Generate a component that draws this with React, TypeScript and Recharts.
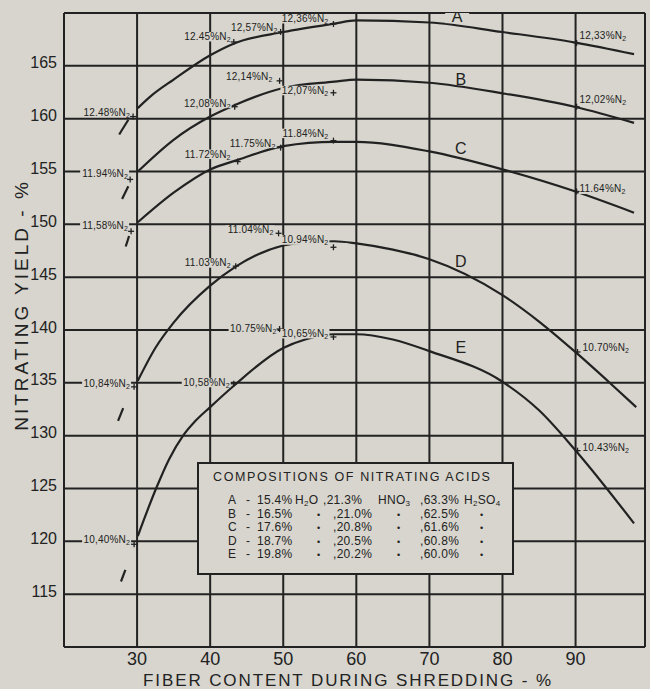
import React from 'react';
import { ComposedChart, Line, Scatter, XAxis, YAxis, CartesianGrid } from 'recharts';

const PAPER = '#d7d5cd';
const INK = '#222222';
const FONT = '"Liberation Sans", Arial, sans-serif';

const X_TICKS = [30, 40, 50, 60, 70, 80, 90];
const Y_TICKS = [115, 120, 125, 130, 135, 140, 145, 150, 155, 160, 165];

// main curves
const CURVE_A = [
  { x: 30.1, y: 161.0 }, { x: 32, y: 162.2 }, { x: 35, y: 163.7 }, { x: 40, y: 166.0 },
  { x: 43.2, y: 167.1 }, { x: 50, y: 168.2 }, { x: 57, y: 169.0 }, { x: 60, y: 169.3 },
  { x: 70, y: 169.1 }, { x: 80, y: 168.2 }, { x: 90, y: 167.2 }, { x: 98, y: 166.1 },
];
const CURVE_B = [
  { x: 30.1, y: 155.0 }, { x: 35, y: 158.0 }, { x: 40, y: 160.2 }, { x: 43.4, y: 161.3 },
  { x: 50, y: 162.9 }, { x: 57, y: 163.5 }, { x: 60, y: 163.7 }, { x: 70, y: 163.4 },
  { x: 80, y: 162.4 }, { x: 90, y: 161.1 }, { x: 98, y: 159.6 },
];
const CURVE_C = [
  { x: 30.1, y: 150.2 }, { x: 35, y: 153.0 }, { x: 40, y: 155.2 }, { x: 43.8, y: 156.1 },
  { x: 50, y: 157.4 }, { x: 57, y: 157.8 }, { x: 60, y: 157.8 }, { x: 70, y: 156.9 },
  { x: 80, y: 155.2 }, { x: 90, y: 153.1 }, { x: 98, y: 151.1 },
];
const CURVE_D = [
  { x: 30.1, y: 135.2 }, { x: 32.5, y: 138.3 }, { x: 35, y: 140.7 }, { x: 40, y: 144.2 },
  { x: 43.5, y: 146.0 }, { x: 50, y: 148.0 }, { x: 53, y: 148.3 }, { x: 57, y: 148.4 },
  { x: 60, y: 148.2 }, { x: 65, y: 147.6 }, { x: 70, y: 146.7 }, { x: 80, y: 143.3 },
  { x: 85, y: 140.8 }, { x: 90, y: 137.9 }, { x: 95, y: 134.8 }, { x: 98.3, y: 132.7 },
];
const CURVE_E = [
  { x: 30.1, y: 120.5 }, { x: 32.6, y: 125.0 }, { x: 34.4, y: 127.8 }, { x: 36.3, y: 130.0 },
  { x: 38, y: 131.4 }, { x: 40, y: 132.7 }, { x: 43.2, y: 134.7 }, { x: 50, y: 138.3 },
  { x: 53, y: 139.1 }, { x: 57, y: 139.6 }, { x: 60, y: 139.6 }, { x: 65, y: 139.1 },
  { x: 70, y: 138.0 }, { x: 80, y: 135.1 }, { x: 85, y: 132.4 }, { x: 90, y: 128.6 },
  { x: 98, y: 121.7 },
];

// short lead-in strokes below x=30
const LEAD_A = [{ x: 27.55, y: 158.5 }, { x: 28.8, y: 159.9 }];
const LEAD_B = [{ x: 27.95, y: 152.4 }, { x: 28.8, y: 153.6 }];
const LEAD_C = [{ x: 28.45, y: 147.9 }, { x: 28.9, y: 148.9 }];
const LEAD_D = [{ x: 27.4, y: 131.4 }, { x: 28.1, y: 132.6 }];
const LEAD_E = [{ x: 27.8, y: 116.2 }, { x: 28.4, y: 117.3 }];

// measured points with nitrogen content
const MARKERS = [
  { x: 29.45, y: 160.2, n: '12.48' },
  { x: 43.23, y: 167.26, n: '12.45' },
  { x: 49.64, y: 168.21, n: '12,57' },
  { x: 56.87, y: 168.96, n: '12,36' },
  { x: 90.14, y: 167.17, n: '12,33' },
  { x: 29.05, y: 154.25, n: '11.94' },
  { x: 43.36, y: 161.13, n: '12,08' },
  { x: 49.5, y: 163.58, n: '12,14' },
  { x: 56.87, y: 162.45, n: '12,07' },
  { x: 90.14, y: 161.13, n: '12,02' },
  { x: 29.18, y: 149.34, n: '11,58' },
  { x: 43.77, y: 155.94, n: '11.72' },
  { x: 49.64, y: 157.26, n: '11.75' },
  { x: 56.87, y: 157.92, n: '11.84' },
  { x: 90.14, y: 153.11, n: '11.64' },
  { x: 29.59, y: 134.62, n: '10,84' },
  { x: 43.5, y: 146.04, n: '11.03' },
  { x: 49.36, y: 149.15, n: '11.04' },
  { x: 56.87, y: 147.83, n: '10.94' },
  { x: 90.27, y: 137.92, n: '10.70' },
  { x: 29.59, y: 119.72, n: '10,40' },
  { x: 43.23, y: 134.91, n: '10,58' },
  { x: 49.5, y: 140.09, n: '10.75' },
  { x: 56.87, y: 139.34, n: '10,65' },
  { x: 90.27, y: 128.58, n: '10.43' },
];

const CURVE_NAMES = [
  { x: 73.8, y: 169.7, name: 'A' },
  { x: 74.3, y: 163.7, name: 'B' },
  { x: 74.3, y: 157.2, name: 'C' },
  { x: 74.3, y: 146.5, name: 'D' },
  { x: 74.3, y: 138.3, name: 'E' },
];

const COMP_LETTERS = ['A', 'B', 'C', 'D', 'E'];
const COMP_H2O = ['15.4%', '16.5%', '17.6%', '18.7%', '19.8%'];
const COMP_HNO3 = ['21.3%', '21.0%', '20.8%', '20.5%', '20.2%'];
const COMP_H2SO4 = ['63.3%', '62.5%', '61.6%', '60.8%', '60.0%'];

// label placement next to each marker: [dx, dy, anchor]
const LABEL_PLACE: Record<string, [number, number, 'start' | 'end']> = {
  '12.48': [-3, -1, 'end'], '12.45': [-3, -2, 'end'], '12,57': [-3, -1, 'end'],
  '12,36': [-5, -2, 'end'], '12,33': [3, -4, 'start'],
  '11.94': [-2, -2, 'end'], '12,08': [-4, 0, 'end'], '12,14': [-7, -1, 'end'],
  '12,07': [-5, 1, 'end'], '12,02': [3, -4, 'start'],
  '11,58': [-3, -2, 'end'], '11.72': [-7, -4, 'end'], '11.75': [-5, -1, 'end'],
  '11.84': [-5, -4, 'end'], '11.64': [3, 1, 'start'],
  '10,84': [-4, 0, 'end'], '11.03': [-5, 0, 'end'], '11.04': [-5, 0, 'end'],
  '10.94': [-5, -4, 'end'], '10.70': [5, -1, 'start'],
  '10,40': [-4, -1, 'end'], '10,58': [-4, 2, 'end'], '10.75': [-3, 3, 'end'],
  '10,65': [-5, 0, 'end'], '10.43': [5, 0, 'start'],
};

const MarkerShape = (props: any) => {
  const { cx, cy, payload } = props;
  const [dx, dy, anchor] = LABEL_PLACE[payload.n] || [-4, 0, 'end'];
  const w = 48;
  const tx = cx + dx;
  const ty = cy + dy;
  const left = anchor === 'end' ? tx - w : tx - 1;
  return (
    <g>
      <rect x={left} y={ty - 8} width={w + 1} height={9.5} fill={PAPER} />
      <text x={tx} y={ty} textAnchor={anchor} fontSize={10} letterSpacing={0.2} fontFamily={FONT} fill={INK}>
        {payload.n}%N<tspan fontSize={7} dy={2}>2</tspan>
      </text>
      <line x1={cx - 3} y1={cy} x2={cx + 3} y2={cy} stroke={INK} strokeWidth={1.3} />
      <line x1={cx} y1={cy - 3} x2={cx} y2={cy + 3} stroke={INK} strokeWidth={1.3} />
    </g>
  );
};

const NameShape = (props: any) => {
  const { cx, cy, payload } = props;
  return (
    <g>
      {payload.name === 'A' && <rect x={cx - 12} y={cy - 7} width={24} height={14} fill={PAPER} />}
      <text x={cx} y={cy} textAnchor="middle" dominantBaseline="central" fontSize={16} fontFamily={FONT} fill={INK}>
        {payload.name}
      </text>
    </g>
  );
};

const YTick = (props: any) => {
  const { y, payload } = props;
  return (
    <text x={57} y={y - 3} textAnchor="end" dominantBaseline="central" fontSize={16} fontFamily={FONT} fill={INK}>
      {payload.value}
    </text>
  );
};

const XTick = (props: any) => {
  const { x, payload } = props;
  return (
    <text x={x} y={665} textAnchor="middle" fontSize={18} fontFamily={FONT} fill={INK}>
      {payload.value}
    </text>
  );
};

const XTitle = () => (
  <text x={348} y={686} textAnchor="middle" fontSize={17} letterSpacing={1.9} fontFamily={FONT} fill={INK}>
    FIBER  CONTENT  DURING  SHREDDING - %
  </text>
);

const YTitle = () => (
  <text
    transform="translate(21,305) rotate(-90)"
    textAnchor="middle"
    dominantBaseline="central"
    fontSize={19}
    letterSpacing={3}
    fontFamily={FONT}
    fill={INK}
  >
    NITRATING  YIELD - %
  </text>
);

const lineProps = {
  stroke: INK,
  strokeWidth: 2.2,
  dot: false,
  activeDot: false,
  isAnimationActive: false,
  dataKey: 'y',
} as const;

function Compositions() {
  const rowTop = (i: number) => 29 + i * 13.5;
  const cell = (left: number, top: number, content: React.ReactNode, key: string) => (
    <span key={key} style={{ position: 'absolute', left, top, whiteSpace: 'nowrap' }}>{content}</span>
  );
  const dot = <span style={{ fontSize: 9 }}>•</span>;
  const sub = (s: string) => <sub style={{ fontSize: 8, verticalAlign: '-2px', lineHeight: 0 }}>{s}</sub>;
  return (
    <div
      style={{
        position: 'absolute', left: 197, top: 462, width: 317, height: 113, boxSizing: 'border-box',
        border: `2px solid ${INK}`, background: PAPER, fontFamily: FONT, color: INK, fontSize: 12,
        letterSpacing: 0.3, lineHeight: '14px',
      }}
    >
      <div style={{ position: 'absolute', left: 14, top: 6, fontSize: 12.5, letterSpacing: 1.6, whiteSpace: 'nowrap' }}>
        COMPOSITIONS OF NITRATING ACIDS
      </div>
      {COMP_LETTERS.map((L, i) => {
        const t = rowTop(i);
        const first = i === 0;
        return (
          <React.Fragment key={L}>
            {cell(29, t, L, 'l')}
            {cell(47, t, '-', 'd')}
            {cell(58, t, COMP_H2O[i], 'h')}
            {first ? cell(96, t, <>H{sub('2')}O</>, 'w') : cell(118, t, dot, 'w')}
            {cell(first ? 124 : 134, t, ',' + COMP_HNO3[i], 'n')}
            {first ? cell(179, t, <>HNO{sub('3')}</>, 'nn') : cell(198, t, dot, 'nn')}
            {cell(221, t, ',' + COMP_H2SO4[i], 's')}
            {first ? cell(265, t, <>H{sub('2')}SO{sub('4')}</>, 'ss') : cell(281, t, dot, 'ss')}
          </React.Fragment>
        );
      })}
    </div>
  );
}

export default function App() {
  return (
    <div style={{ position: 'relative', width: 650, height: 689, background: PAPER, overflow: 'hidden' }}>
      <style>{`body{margin:0;background:${PAPER};}`}</style>
      <ComposedChart width={650} height={689} margin={{ top: 13, right: 5, bottom: 0, left: 0 }}>
        <CartesianGrid stroke={INK} strokeWidth={2} fill="none" />
        <XAxis
          type="number"
          dataKey="x"
          domain={[20, 99.5]}
          ticks={X_TICKS}
          height={42}
          axisLine={false}
          tickLine={false}
          tick={<XTick />}
          label={<XTitle />}
          allowDataOverflow
        />
        <YAxis
          type="number"
          domain={[110, 170]}
          ticks={Y_TICKS}
          width={64}
          axisLine={false}
          tickLine={false}
          tick={<YTick />}
          label={<YTitle />}
          allowDataOverflow
        />
        <Scatter data={MARKERS} dataKey="y" shape={MarkerShape} isAnimationActive={false} />
        <Scatter data={CURVE_NAMES} dataKey="y" shape={NameShape} isAnimationActive={false} />
        <Line {...lineProps} data={CURVE_A} type="monotone" />
        <Line {...lineProps} data={CURVE_B} type="monotone" />
        <Line {...lineProps} data={CURVE_C} type="monotone" />
        <Line {...lineProps} data={CURVE_D} type="monotone" />
        <Line {...lineProps} data={CURVE_E} type="monotone" />
        <Line {...lineProps} data={LEAD_A} type="linear" />
        <Line {...lineProps} data={LEAD_B} type="linear" />
        <Line {...lineProps} data={LEAD_C} type="linear" />
        <Line {...lineProps} data={LEAD_D} type="linear" />
        <Line {...lineProps} data={LEAD_E} type="linear" />
      </ComposedChart>
      <Compositions />
    </div>
  );
}
